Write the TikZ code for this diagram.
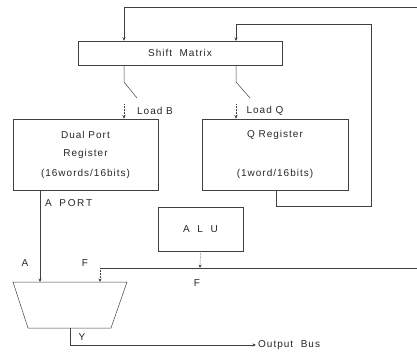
\documentclass[tikz,border=0pt]{standalone}
\usepackage{fontspec}
\setmainfont{Liberation Sans}[LetterSpace=10]
\usetikzlibrary{arrows.meta}
\begin{document}
\begin{tikzpicture}[x=1pt,y=-1pt,
  ln/.style={draw=black!75, line width=0.5pt},
  arr/.style={ln, -{Stealth[length=3.5pt,width=3pt]}},
  stub/.style={arr, densely dotted},
  box/.style={draw=black!75, line width=0.5pt, rectangle, inner sep=0pt},
  lbl/.style={text=black!85, font=\fontsize{10}{12}\selectfont, inner sep=0pt}]
\useasboundingbox (0,0) rectangle (417,354);
% boxes
\node[box, minimum width=204pt, minimum height=24pt] (shift) at (180,53) {};
\node[lbl] at (shift.center) {Shift\ \ Matrix};
\node[box, minimum width=145pt, minimum height=71pt] (dual) at (85.5,154.5) {};
\node[lbl] at (85.5,135) {Dual Port};
\node[lbl] at (85.5,154) {Register};
\node[lbl] at (85.5,174) {(16words/16bits)};
\node[box, minimum width=146pt, minimum height=71pt] (qreg) at (275,154.5) {};
\node[lbl] at (275,135) {Q Register};
\node[lbl] at (275,174) {(1word/16bits)};
\node[box, minimum width=85pt, minimum height=44pt] (alu) at (200.5,229) {};
\node[lbl] at (alu.center) {A\ \ L\ \ U};
% mux trapezoid
\coordinate (mtl) at (13,282);
\coordinate (mtr) at (127,282);
\coordinate (mbr) at (111,328);
\coordinate (mbl) at (28,328);
\draw[ln] (mtl) -- (mtr) -- (mbr) -- (mbl) -- cycle;
\coordinate (muxA) at (40,282);
\coordinate (muxF) at (100,282);
\coordinate (muxY) at (70,328);
% feedback top
\coordinate (topR) at (417,7);
\draw[arr] (topR) -- (124,7) -- (shift.north -| 124,0);
% Q feedback
\coordinate (qout) at (276,190);
\draw[arr] (qout) -- (276,206) -- (371,206) -- (371,24) -- (236,24) -- (236,41);
% load lines
\draw[ln] (124,65) -- (124,82) -- (137,98);
\draw[ln] (236,65) -- (236,82) -- (250,98);
\node[lbl] at (155,111) {Load B};
\node[lbl] at (265,111) {Load Q};
\coordinate (lb) at (124,104);
\coordinate (lq) at (236,104);
\draw[stub] (lb) -- (lb |- dual.north);
\draw[stub] (lq) -- (lq |- qreg.north);
% A port
\draw[arr] (dual.south -| muxA) -- (muxA);
\node[lbl, anchor=west] at (45,203) {A\ \ P\,O\,R\,T};
\node[lbl] at (25,263) {A};
% ALU to F
\coordinate (fline) at (200,268);
\draw[arr, densely dotted] (alu.south) -- (fline);
\coordinate (fR) at (417,268);
\draw[ln] (fR) -- (100,268);
\draw[arr, densely dotted] (100,268) -- (muxF);
\node[lbl] at (85,263) {F};
\node[lbl] at (197,283) {F};
% Y output
\coordinate (outbus) at (256,345);
\draw[arr] (muxY) -- (70,345) -- (outbus);
\node[lbl, anchor=west] at (258,345) {Output\ \ Bus};
\node[lbl] at (82,337) {Y};
\end{tikzpicture}
\end{document}
